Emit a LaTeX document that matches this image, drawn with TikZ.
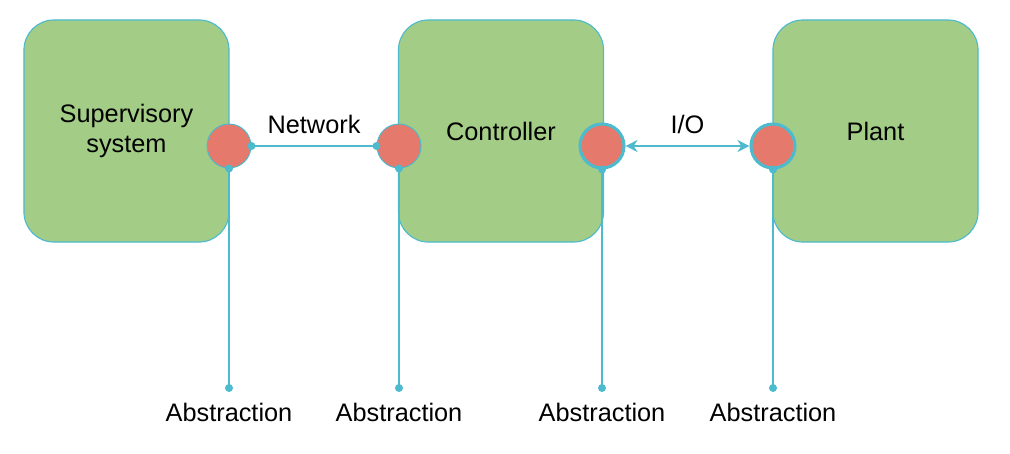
\documentclass[tikz,border=0pt]{standalone}
\usepackage{fontspec}
\setmainfont{Liberation Sans}
\usetikzlibrary{arrows.meta, positioning}

\definecolor{boxgreen}{HTML}{A3CD86}
\definecolor{linkblue}{HTML}{4DBACD}
\definecolor{portred}{HTML}{E5796C}

\begin{document}
\begin{tikzpicture}[
    x=0.025cm, y=-0.025cm,
    block/.style={draw=linkblue, fill=boxgreen, rounded corners=0.75cm, line width=0.8pt,
        minimum width=5.125cm, minimum height=5.55cm, align=center,
        font=\fontsize{18}{21}\selectfont},
    port/.style={draw=linkblue, fill=portred, circle, minimum size=1.1cm, inner sep=0pt, line width=0.7pt},
    ioport/.style={port, line width=2.2pt},
    link/.style={draw=linkblue, line width=1.3pt},
    lbl/.style={font=\fontsize{18}{21}\selectfont, inner sep=1pt}
]
    \useasboundingbox (0,0) rectangle (1010,453);

    % Define blocks
    \node[block] (sup) at (126.5,131) {Supervisory\\system};
    \node[block] (ctrl) at (501,131) {Controller};
    \node[block] (plant) at (875.5,131) {Plant};

    % Ports on the block edges
    \node[port] (p1) at (229,146) {};
    \node[port] (p2) at (399,146) {};
    \node[ioport] (p3) at (602,146) {};
    \node[ioport] (p4) at (773,146) {};

    % Abstraction end points
    \coordinate (a1) at (229,388);
    \coordinate (a2) at (399,388);
    \coordinate (a3) at (602,388);
    \coordinate (a4) at (773,388);

    % Connections between ports
    \draw[link] (p1.east) -- node[lbl, above=7pt] {Network} (p2.west);
    \draw[link, {Stealth[length=0.3cm, width=0.3cm]}-{Stealth[length=0.3cm, width=0.3cm]}]
        (p3.east) -- node[lbl, above=7pt] {I/O} (p4.west);

    % Lines down to the abstractions
    \draw[link] (p1.south) -- (a1);
    \draw[link] (p2.south) -- (a2);
    \draw[link] (p3.south) -- (a3);
    \draw[link] (p4.south) -- (a4);

    \foreach \p in {p1.east, p2.west, p1.south, p2.south, p3.south, p4.south, a1, a2, a3, a4}
        \fill[linkblue] (\p) circle (0.1cm);

    \node[lbl] (abs1) at (229,412) {Abstraction};
    \node[lbl] (abs2) at (399,412) {Abstraction};
    \node[lbl] (abs3) at (602,412) {Abstraction};
    \node[lbl] (abs4) at (773,412) {Abstraction};
\end{tikzpicture}
\end{document}
